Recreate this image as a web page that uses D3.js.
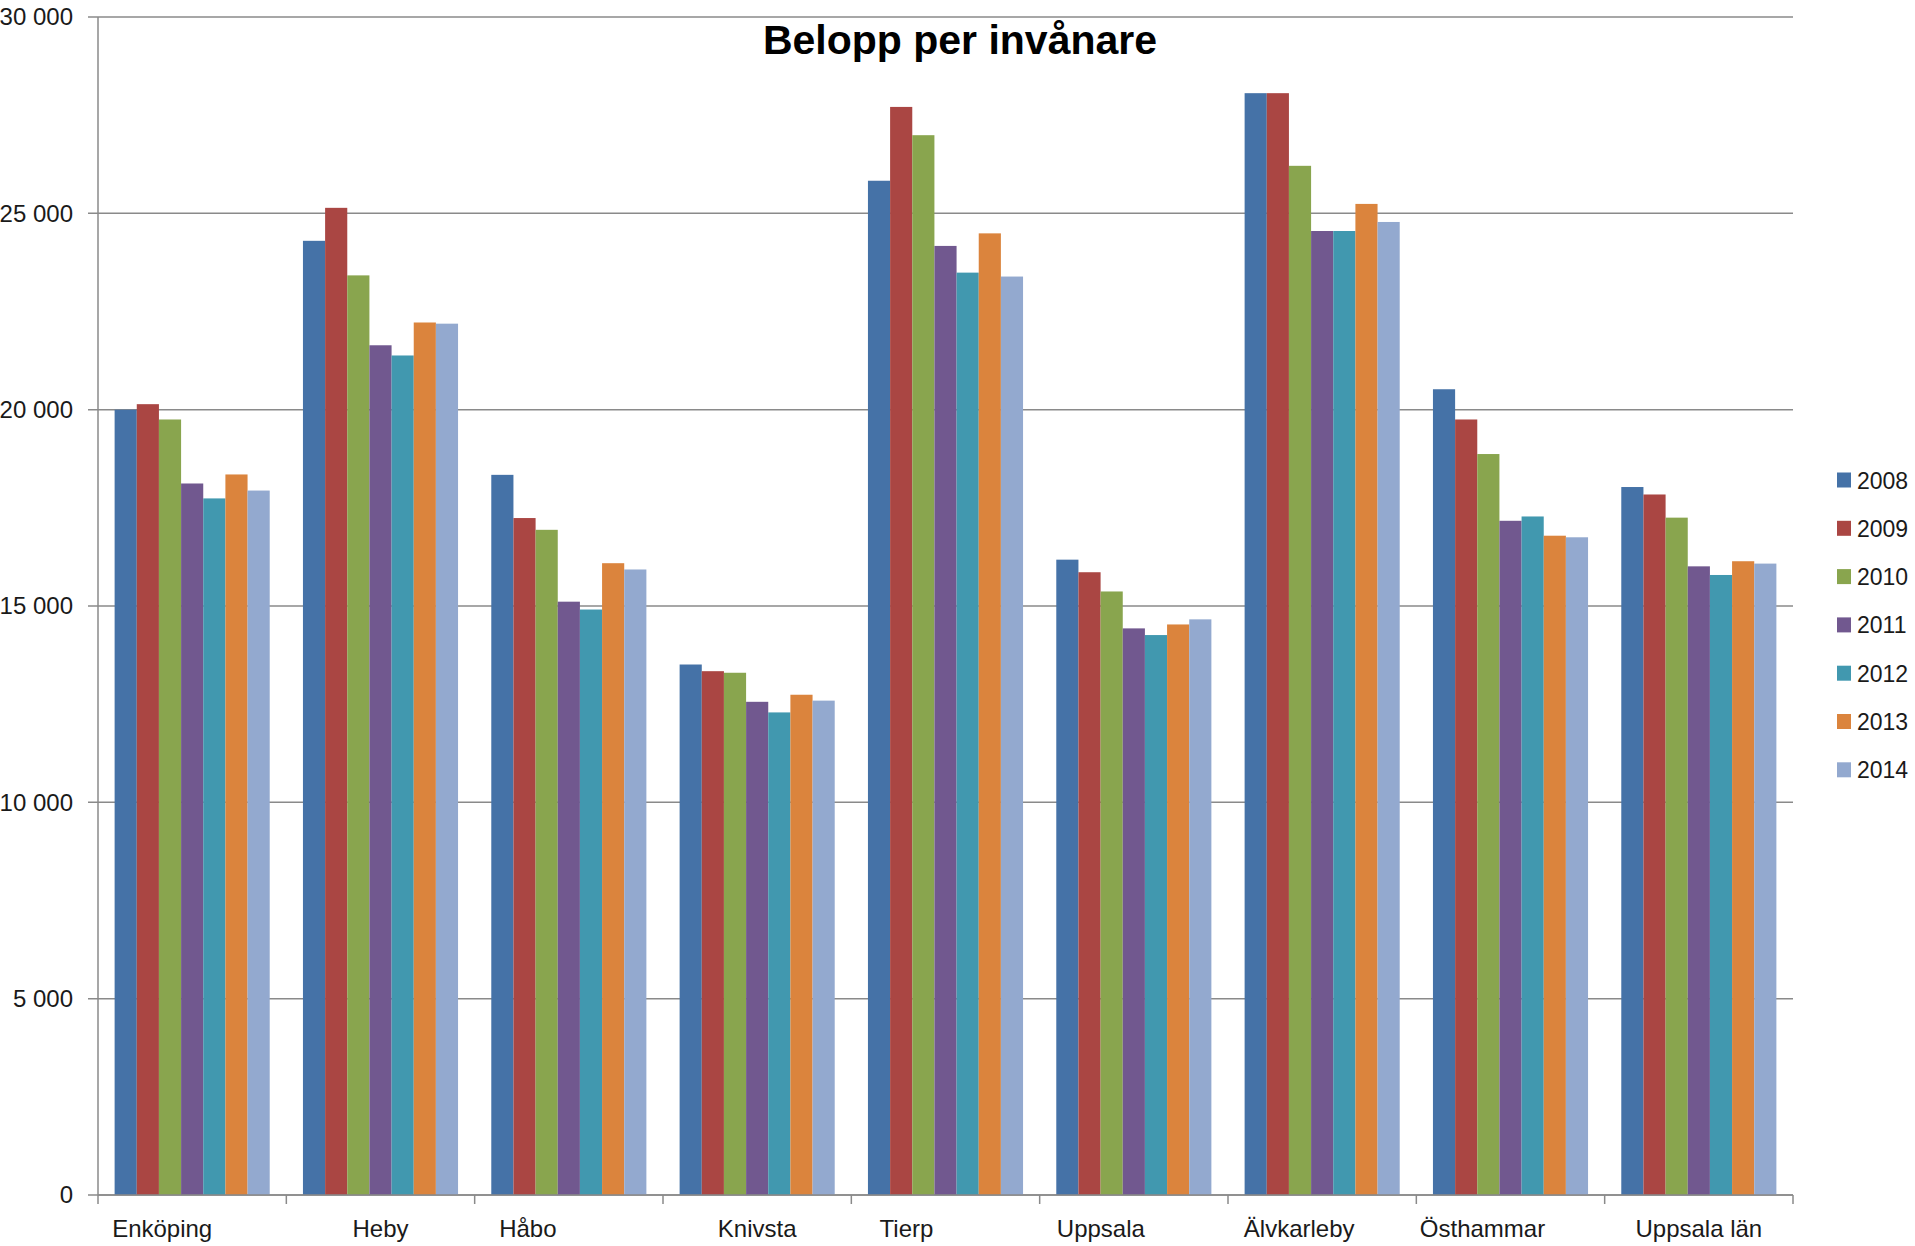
<!DOCTYPE html>
<html>
<head>
<meta charset="utf-8">
<script src="https://cdn.jsdelivr.net/npm/d3@7/dist/d3.min.js"></script>
<style>
  html, body { margin: 0; padding: 0; background: #ffffff; }
  svg { display: block; font-family: "Liberation Sans", Arial, sans-serif; }
</style>
</head>
<body>
<svg id="chart" width="1915" height="1246"></svg>
<script>
// Municipalities in Uppsala county plus the county total
const categories = ["Enköping", "Heby", "Håbo", "Knivsta", "Tierp", "Uppsala", "Älvkarleby", "Östhammar", "Uppsala län"];
const years = ["2008", "2009", "2010", "2011", "2012", "2013", "2014"];

// Amount per inhabitant, one array per year (same order as categories)
const v2008 = [20000, 24300, 18340, 13510, 25830, 16180, 28060, 20520, 18030];
const v2009 = [20140, 25140, 17240, 13340, 27710, 15860, 28060, 19750, 17840];
const v2010 = [19750, 23420, 16940, 13300, 26990, 15370, 26210, 18870, 17250];
const v2011 = [18120, 21640, 15110, 12560, 24170, 14430, 24550, 17170, 16010];
const v2012 = [17740, 21380, 14910, 12290, 23490, 14260, 24550, 17280, 15790];
const v2013 = [18350, 22220, 16090, 12740, 24490, 14530, 25240, 16790, 16140];
const v2014 = [17940, 22190, 15930, 12590, 23390, 14660, 24780, 16750, 16080];

const yTicks = [0, 5000, 10000, 15000, 20000, 25000, 30000];
const title = "Belopp per invånare";

const series = [v2008, v2009, v2010, v2011, v2012, v2013, v2014];
const colors = ["#4572A7", "#AA4643", "#89A54E", "#71588F", "#4198AF", "#DB843D", "#93A9CF"];

// Plot frame
const plotLeft = 98, plotRight = 1793, plotTop = 17, plotBottom = 1195;
const svg = d3.select("#chart");

const x0 = d3.scaleBand().domain(categories).range([plotLeft, plotRight]).padding(0);
const x1 = d3.scaleBand().domain(years).range([0, x0.bandwidth()])
  .paddingInner(0).paddingOuter(0.75);
const y = d3.scaleLinear().domain([0, 30000]).range([plotBottom, plotTop]);

const fmt = d3.formatLocale({ decimal: ",", thousands: " ", grouping: [3], currency: ["", " kr"] }).format(",");

// Horizontal gridlines
svg.append("g").selectAll("line").data(yTicks).join("line")
  .attr("x1", plotLeft - 10).attr("x2", plotRight)
  .attr("y1", d => y(d)).attr("y2", d => y(d))
  .attr("stroke", "#8a8a8a").attr("stroke-width", 1.5);

// Y axis labels via d3 axis
const yAxis = svg.append("g")
  .attr("transform", `translate(${plotLeft - 25},0)`)
  .call(d3.axisLeft(y).tickValues(yTicks).tickFormat(fmt).tickSize(0).tickPadding(0));
yAxis.select(".domain").remove();
yAxis.selectAll("text")
  .attr("font-size", 24).attr("fill", "#1a1a1a")
  .attr("font-family", "'Liberation Sans', Arial, sans-serif");

// Y axis line
svg.append("line")
  .attr("x1", plotLeft).attr("x2", plotLeft).attr("y1", plotTop).attr("y2", plotBottom)
  .attr("stroke", "#8a8a8a").attr("stroke-width", 1.5);

// Bars
const groups = svg.append("g").selectAll("g").data(categories).join("g")
  .attr("transform", d => `translate(${x0(d)},0)`);
groups.selectAll("rect")
  .data((c, i) => years.map((yr, k) => ({ yr, k, v: series[k][i] })))
  .join("rect")
  .attr("x", d => x1(d.yr))
  .attr("width", x1.bandwidth())
  .attr("y", d => y(d.v))
  .attr("height", d => y(0) - y(d.v))
  .attr("fill", d => colors[d.k]);

// X axis line and tick marks at category boundaries
svg.append("line")
  .attr("x1", plotLeft).attr("x2", plotRight).attr("y1", plotBottom).attr("y2", plotBottom)
  .attr("stroke", "#8a8a8a").attr("stroke-width", 1.5);
const bounds = categories.map(c => x0(c)).concat([plotRight]);
svg.append("g").selectAll("line").data(bounds).join("line")
  .attr("x1", d => d).attr("x2", d => d)
  .attr("y1", plotBottom).attr("y2", plotBottom + 9)
  .attr("stroke", "#8a8a8a").attr("stroke-width", 1.5);

// Category labels (a few sit slightly left of their group centre)
const labelNudge = { "Enköping": -30, "Håbo": -41, "Tierp": -39, "Uppsala": -33, "Älvkarleby": -23, "Östhammar": -28 };
svg.append("g").selectAll("text").data(categories).join("text")
  .attr("x", d => x0(d) + x0.bandwidth() / 2 + (labelNudge[d] || 0))
  .attr("y", 1237)
  .attr("text-anchor", "middle")
  .attr("font-size", 24).attr("fill", "#1a1a1a")
  .text(d => d);

// Title
svg.append("text")
  .attr("x", 960).attr("y", 54)
  .attr("text-anchor", "middle")
  .attr("font-size", 41).attr("font-weight", "bold").attr("fill", "#000")
  .text(title);

// Legend
const legend = svg.append("g").selectAll("g").data(years).join("g")
  .attr("transform", (d, i) => `translate(1837,${480 + i * 48.3})`);
legend.append("rect")
  .attr("x", 0).attr("y", -7.5).attr("width", 14).attr("height", 15)
  .attr("fill", (d, i) => colors[i]);
legend.append("text")
  .attr("x", 20).attr("y", 8.5)
  .attr("font-size", 23).attr("fill", "#1a1a1a")
  .text(d => d);
</script>
</body>
</html>
